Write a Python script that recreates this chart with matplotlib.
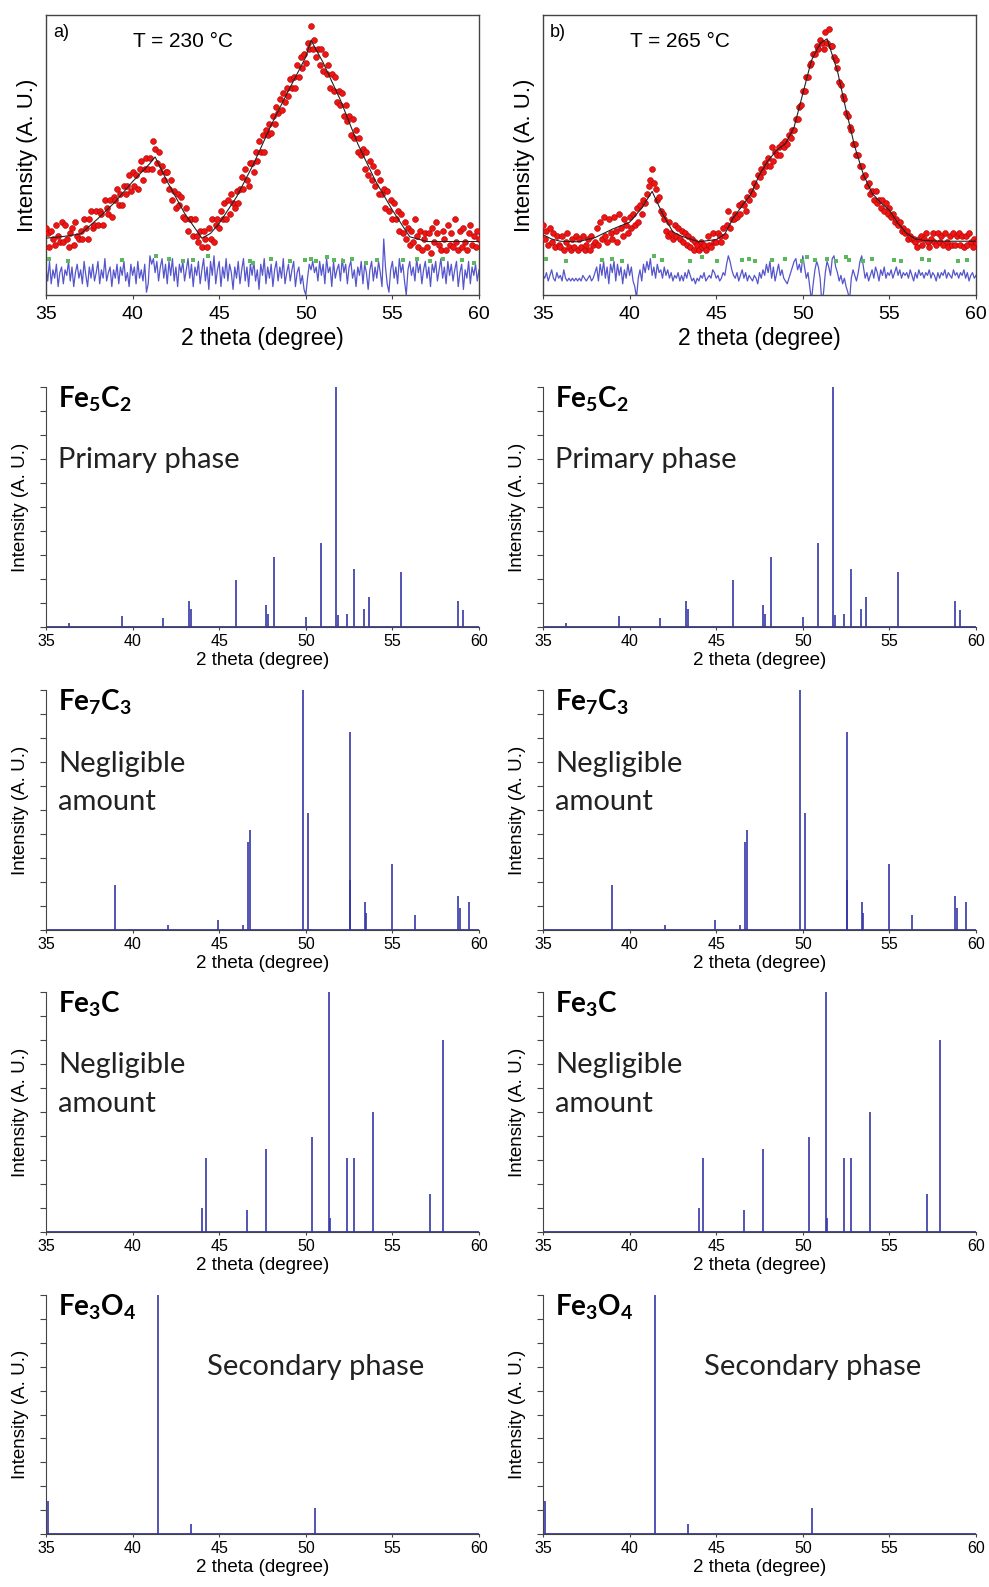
import numpy as np
import matplotlib.pyplot as plt

plt.rcParams['font.family'] = ['Liberation Sans', 'DejaVu Sans']
plt.rcParams['mathtext.fontset'] = 'custom'
plt.rcParams['mathtext.bf'] = 'Lato:bold'
plt.rcParams['mathtext.rm'] = 'Lato'
plt.rcParams['mathtext.it'] = 'Lato:italic'

# 2 theta scan, 0.1 degree step
two_theta = np.arange(350, 601) / 10.0

# a) T = 230 C, measured intensity
obs_a = [24, 22, 17, 23, 20, 18, 25, 21, 19, 26,
         19, 25, 20, 17, 22, 24, 18, 26, 21, 20,
         23, 20, 27, 24, 20, 27, 30, 24, 25, 30,
         25, 30, 29, 25, 34, 31, 29, 34, 28, 35,
         34, 38, 32, 36, 32, 39, 36, 39, 43, 37,
         44, 39, 43, 38, 45, 48, 41, 45, 49, 45,
         49, 45, 55, 52, 47, 51, 44, 46, 41, 44,
         44, 38, 41, 34, 37, 31, 36, 32, 35, 28,
         27, 31, 23, 27, 27, 21, 27, 21, 19, 23,
         17, 23, 20, 17, 24, 20, 27, 19, 25, 27,
         24, 30, 27, 33, 27, 34, 29, 36, 33, 31,
         37, 33, 38, 42, 38, 45, 41, 39, 47, 47,
         44, 51, 48, 55, 51, 57, 51, 59, 57, 61,
         58, 64, 61, 67, 65, 70, 66, 72, 69, 74,
         71, 77, 74, 78, 74, 82, 78, 85, 81, 86,
         83, 90, 88, 96, 88, 91, 85, 88, 82, 88,
         80, 86, 79, 82, 74, 79, 73, 78, 69, 73,
         68, 72, 64, 68, 62, 64, 57, 63, 56, 59,
         51, 56, 50, 52, 45, 51, 43, 48, 41, 46,
         39, 44, 36, 41, 36, 38, 31, 37, 30, 34,
         27, 33, 27, 30, 23, 29, 22, 26, 20, 24,
         18, 23, 19, 27, 21, 17, 23, 16, 20, 22,
         17, 22, 15, 24, 19, 26, 22, 18, 16, 23,
         20, 16, 25, 18, 22, 17, 27, 19, 16, 23,
         17, 24, 19, 16, 22, 25, 18, 21, 17, 23,
         20]
# a) difference curve (offset)
res_a = [10, 5, 12, 4, 9, 6, 11, 3, 8, 10,
         4, 9, 7, 12, 5, 10, 3, 8, 11, 6,
         9, 4, 12, 7, 3, 10, 6, 11, 5, 8,
         12, 4, 9, 6, 13, 5, 8, 10, 3, 9,
         6, 11, 4, 10, 7, 12, 5, 8, 3, 11,
         7, 10, 4, 12, 6, 9, 5, 11, 1, 4,
         14, 11, 13, 8, 12, 5, 10, 13, 6, 11,
         4, 12, 7, 13, 5, 10, 3, 11, 8, 12,
         5, 9, 13, 6, 11, 3, 10, 7, 12, 4,
         9, 13, 5, 10, 2, 12, 7, 14, 4, 9,
         12, 3, 10, 6, 13, 5, 11, 8, 2, 10,
         6, 12, 4, 9, 13, 5, 10, 3, 11, 7,
         12, 5, 9, 2, 11, 7, 13, 4, 10, 6,
         11, 3, 9, 12, 5, 10, 6, 13, 4, 8,
         11, 5, 9, 12, 3, 8, 10, 4, 7, 2,
         0, 6, 11, 9, 12, 8, 10, 5, 12, 7,
         11, 4, 13, 8, 10, 3, 12, 6, 9, 11,
         5, 13, 8, 11, 4, 10, 12, 6, 9, 3,
         10, 7, 12, 4, 11, 8, 2, 9, 12, 5,
         10, 6, 12, 8, 3, 20, 10, 4, 1, 9,
         12, 6, 10, 4, 13, 8, 11, 5, 0, 9,
         12, 7, 10, 5, 13, 8, 11, 4, 9, 12,
         6, 10, 3, 11, 8, 12, 5, 9, 13, 6,
         10, 4, 12, 7, 11, 5, 9, 12, 3, 8,
         11, 2, 9, 6, 12, 4, 10, 7, 11, 5,
         9]
# a) fitted profile
fit_a_x = [35, 36, 37, 38, 39, 40, 41, 41.3, 42, 43, 44, 44.5, 45, 46, 47, 48, 49,
           50, 50.3, 51, 52, 53, 54, 55, 56, 57, 58, 59, 60]
fit_a_y = [20.3, 20.9, 21.8, 27.3, 33.3, 40.5, 47, 49.3, 40.5, 29.2, 20.3, 22, 25.6,
           35, 47, 60.7, 73, 85, 91, 83, 69.6, 54, 41, 30.3, 20.8, 19.1, 19.1, 19.1, 19.1]
# a) green trace
grn_a_x = [35.2, 36.25, 39.4, 41.35, 42.1, 42.9, 43.5, 44.35, 46.75, 46.95, 48, 49.07,
           49.94, 50.3, 50.6, 51.2, 51.6, 52.15, 52.65, 53.5, 54.1, 55.6, 56.4, 57.15,
           57.95, 59, 59.7]
grn_a_y = [13, 12, 12.5, 14, 13, 12, 12.5, 14, 12, 11.5, 13, 12, 12.5, 13, 12, 13.5,
           12.5, 12, 13, 11.5, 12.5, 12.5, 13, 12, 13, 12.5, 11.5]

# b) T = 265 C, measured intensity
obs_b = [25, 20, 23, 18, 24, 19, 22, 17, 21, 18,
         17, 21, 16, 19, 22, 17, 16, 20, 17, 21,
         16, 20, 17, 21, 16, 18, 20, 16, 21, 18,
         19, 24, 18, 26, 20, 28, 21, 19, 27, 22,
         20, 28, 23, 19, 29, 24, 21, 27, 25, 22,
         28, 24, 29, 25, 31, 26, 32, 29, 34, 33,
         36, 39, 41, 45, 40, 38, 34, 35, 30, 29,
         27, 23, 21, 26, 22, 20, 25, 21, 24, 20,
         23, 19, 22, 18, 21, 17, 20, 16, 19, 18,
         16, 19, 17, 18, 16, 21, 18, 17, 22, 19,
         19, 22, 21, 19, 24, 21, 25, 30, 24, 27,
         27, 29, 28, 32, 29, 33, 32, 30, 35, 34,
         37, 36, 40, 39, 43, 42, 45, 44, 47, 46,
         49, 46, 53, 48, 51, 50, 53, 50, 54, 53,
         55, 54, 57, 56, 59, 59, 63, 63, 67, 68,
         73, 73, 78, 78, 82, 83, 86, 86, 89, 88,
         91, 90, 88, 94, 90, 95, 89, 89, 85, 84,
         81, 76, 75, 71, 70, 65, 64, 60, 59, 54,
         54, 50, 50, 46, 46, 42, 43, 39, 40, 36,
         37, 34, 37, 33, 34, 31, 34, 30, 33, 29,
         31, 28, 29, 26, 27, 25, 26, 23, 24, 22,
         23, 20, 21, 20, 20, 19, 17, 20, 21, 18,
         20, 22, 19, 17, 20, 22, 19, 18, 22, 19,
         21, 18, 22, 19, 17, 21, 18, 22, 18, 21,
         22, 18, 21, 17, 21, 18, 22, 19, 17, 20,
         19]
# b) difference curve (offset)
res_b = [7, 6, 8, 5, 7, 9, 6, 5, 8, 6,
         7, 5, 9, 6, 5, 6, 5, 6, 5, 6,
         5, 6, 5, 7, 6, 5, 6, 7, 5, 6,
         8, 10, 5, 11, 7, 12, 6, 10, 4, 11,
         8, 12, 5, 11, 7, 10, 4, 9, 6, 11,
         7, 10, 5, 3, -1, 6, 9, 5, 11, 8,
         12, 9, 13, 7, 10, 6, 11, 8, 9, 6,
         10, 7, 9, 6, 8, 5, 7, 6, 8, 5,
         7, 5, 8, 6, 9, 7, 5, 6, 4, 6,
         5, 7, 6, 8, 5, 6, 7, 6, 9, 8,
         6, 7, 5, 6, 8, 7, 11, 14, 12, 9,
         7, 6, 8, 5, 7, 9, 6, 8, 5, 7,
         6, 5, 7, 6, 4, 8, 6, 9, 7, 11,
         8, 12, 6, 10, 5, 8, 11, 7, 9, 6,
         5, 4, 6, 8, 10, 12, 13, 9, 11, 8,
         14, 10, 6, 8, 3, -2, 4, 9, 12, 10,
         6, -3, 1, 8, 12, 10, 7, 13, 14, 10,
         8, 5, 7, 4, 6, 3, 1, -2, 6, 9,
         7, 5, 8, 12, 14, 10, 6, 8, 5, 7,
         9, 6, 10, 8, 5, 9, 7, 10, 6, 8,
         7, 9, 6, 8, 10, 7, 9, 6, 8, 7,
         8, 6, 9, 7, 5, 8, 6, 9, 7, 8,
         6, 8, 7, 9, 6, 8, 7, 5, 8, 6,
         8, 7, 9, 6, 8, 7, 6, 9, 7, 8,
         6, 8, 7, 9, 6, 8, 5, 7, 8, 6,
         7]
# b) fitted profile
fit_b_x = [35, 35.5, 36, 37, 38, 39, 40, 40.7, 41.3, 41.9, 42.5, 43, 44, 45, 45.5, 46,
           47, 47.5, 48, 48.5, 49, 49.5, 50, 50.5, 51, 51.4, 52, 52.5, 53, 53.5, 54,
           54.5, 55, 55.5, 56, 56.5, 57, 58, 59, 60]
fit_b_y = [21.5, 20, 19.2, 19, 20.5, 23.5, 26, 31, 37, 29, 22.5, 21, 19, 19.8, 21.8,
           27.7, 36, 43, 48, 51.8, 54, 60, 71.9, 83.8, 89.8, 91.5, 80, 66, 53, 43,
           36.4, 32.9, 30.3, 25.6, 22, 20, 19.5, 19.2, 19.2, 19.2]
# b) green trace
grn_b_x = [35.2, 36.35, 38.4, 39, 39.55, 41.4, 41.85, 43.5, 44.2, 45.05, 46.5, 46.9,
           47.25, 48.2, 49, 49.95, 50.25, 50.7, 51.4, 51.9, 52.5, 52.65, 53.5, 54,
           55.27, 55.65, 56.9, 57.3, 58.94, 59.5]
grn_b_y = [13, 12, 12.5, 13, 12, 14, 12.5, 12, 13.5, 12, 12.5, 13, 12, 12.5, 13, 12,
           13.5, 12.5, 13, 12, 13.5, 12.5, 12, 13, 12.5, 12, 13, 12.5, 12, 12.5]

# reference stick patterns
fe5c2_pos = [36.35, 39.38, 41.75, 43.25, 43.35, 45.99, 47.72, 47.82, 48.16, 50.03,
             50.90, 51.77, 51.85, 52.35, 52.79, 53.37, 53.64, 55.49, 58.80, 59.05]
fe5c2_int = [1.5, 4.4, 3.9, 11, 7.6, 19.7, 9, 5.5, 29, 4,
             35, 100, 5, 5.5, 24, 7.6, 12.5, 23, 11, 7]
fe7c3_pos = [39.01, 42.04, 44.93, 46.37, 46.66, 46.76, 49.84, 50.13, 52.54, 52.58,
             53.41, 53.50, 54.95, 56.30, 58.80, 58.90, 59.42]
fe7c3_int = [18.75, 2, 4, 2, 36.8, 41.7, 100, 48.6, 82.6, 21,
             11.8, 7, 27.4, 6.2, 14.3, 9, 11.8]
fe3c_pos = [44.00, 44.25, 46.62, 47.72, 50.38, 51.35, 51.42, 52.35, 52.79, 53.89,
            57.17, 57.90]
fe3c_int = [10, 30.8, 9, 34.4, 39.6, 100, 6, 30.8, 30.8, 50, 16, 79.9]
fe3o4_pos = [35.10, 41.46, 43.38, 50.52]
fe3o4_int = [14, 100, 4, 11]

sticks = [(fe5c2_pos, fe5c2_int, r'$\mathbf{Fe_5C_2}$', [('Primary phase', 0.028, 0.6625)]),
          (fe7c3_pos, fe7c3_int, r'$\mathbf{Fe_7C_3}$', [('Negligible', 0.028, 0.658), ('amount', 0.028, 0.50)]),
          (fe3c_pos, fe3c_int, r'$\mathbf{Fe_3C}$', [('Negligible', 0.028, 0.6625), ('amount', 0.028, 0.50)]),
          (fe3o4_pos, fe3o4_int, r'$\mathbf{Fe_3O_4}$', [('Secondary phase', 0.372, 0.665)])]

W, H = 989., 1587.
fig = plt.figure(figsize=(W / 100, H / 100), dpi=100)
col_left = [46, 543]
ax_w = 433

axis_col = '#444444'
stick_col = '#3636a8'

# top row: measured patterns
top_data = [(obs_a, res_a, fit_a_x, fit_a_y, grn_a_x, grn_a_y, 'a)', 'T = 230 °C'),
            (obs_b, res_b, fit_b_x, fit_b_y, grn_b_x, grn_b_y, 'b)', 'T = 265 °C')]
for c, (obs, res, fx, fy, gx, gy, tag, temp) in enumerate(top_data):
    ax = fig.add_axes([col_left[c] / W, 1 - 295 / H, ax_w / W, 280 / H])
    ax.plot(two_theta, res, color='#5555cc', linewidth=0.9, zorder=2)
    ax.plot(gx, gy, 's', color='#5cb85c', markersize=2.8, markeredgewidth=0, zorder=3)
    ax.plot(two_theta, obs, 'o', markersize=4.2, markerfacecolor='#ee1515',
            markeredgecolor='#b00000', markeredgewidth=0.4, zorder=4)
    ax.plot(fx, fy, color='#222222', linewidth=0.8, zorder=5)
    ax.set_xlim(35, 60)
    ax.set_ylim(0, 100)
    ax.set_xticks(np.arange(35, 61, 5))
    ax.set_yticks([])
    for s in ax.spines.values():
        s.set_color(axis_col)
        s.set_linewidth(1.0)
    ax.tick_params(axis='x', direction='out', length=3, width=0.8, color=axis_col,
                   labelsize=14, pad=5)
    ax.set_xlabel('2 theta (degree)', fontsize=16.5, labelpad=3)
    ax.set_ylabel('Intensity (A. U.)', fontsize=16, labelpad=6)
    ax.text(0.016, 0.936, tag, transform=ax.transAxes, fontsize=13, va='center')
    ax.text(0.20, 0.904, temp, transform=ax.transAxes, fontsize=15, va='center')

# stick patterns, same in both columns
tops = [387, 690, 992, 1295]
bots = [627, 930, 1232, 1534]
for c in range(2):
    for r, (pos, inten, name, notes) in enumerate(sticks):
        ax = fig.add_axes([col_left[c] / W, 1 - bots[r] / H, ax_w / W, (bots[r] - tops[r]) / H])
        ax.vlines(pos, 0, inten, color=stick_col, linewidth=1.2)
        ax.axhline(0, color=stick_col, linewidth=1.3)
        ax.set_xlim(35, 60)
        ax.set_ylim(0, 100)
        ax.set_xticks(np.arange(35, 61, 5))
        ax.set_yticks(np.arange(0, 101, 10))
        ax.set_yticklabels([])
        ax.spines['top'].set_visible(False)
        ax.spines['right'].set_visible(False)
        ax.spines['left'].set_color(axis_col)
        ax.spines['bottom'].set_color(axis_col)
        ax.tick_params(axis='y', direction='out', length=4.5, width=0.8, color=axis_col)
        ax.tick_params(axis='x', direction='out', length=2.5, width=0.8, color=axis_col,
                       labelsize=11.5, pad=2.5)
        ax.set_xlabel('2 theta (degree)', fontsize=13.5, labelpad=2)
        ax.set_ylabel('Intensity (A. U.)', fontsize=13.5, labelpad=4)
        ax.text(0.028, 0.915, name, transform=ax.transAxes, fontsize=20, va='baseline')
        for txt, tx, ty in notes:
            ax.text(tx, ty, txt, transform=ax.transAxes, fontsize=21, family='Lato',
                    color='#222222', va='baseline')

fig.savefig('out.png', dpi=100)
